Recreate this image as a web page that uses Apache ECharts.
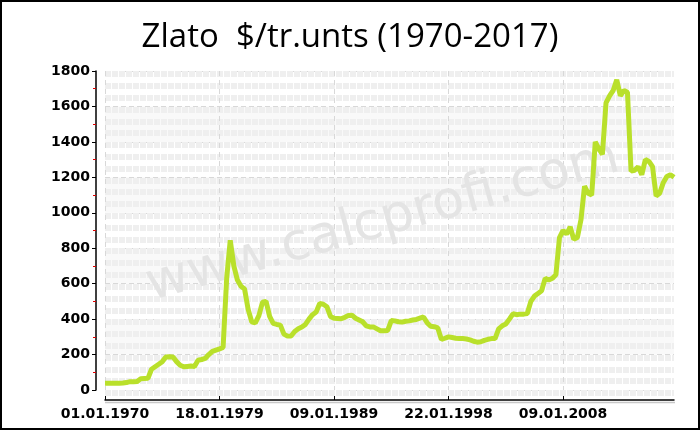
<!DOCTYPE html>
<html><head><meta charset="utf-8">
<script src="https://cdn.jsdelivr.net/npm/echarts@6/dist/echarts.min.js"></script>
<style>html,body{margin:0;padding:0;background:#fff}#c{width:700px;height:430px}</style>
</head><body><div id="c"></div>
<script>
const titleText = 'Zlato  $/tr.unts (1970-2017)';
const watermarkText = 'www.calcprofi.com';
const tickLabels = ['01.01.1970', '18.01.1979', '09.01.1989', '22.01.1998', '09.01.2008'];
const labelStep = 32;
const goldPrice = [
  38,38,38,38,38,39,42,47,47,48,
  64,65,66,117,131,145,160,186,188,186,
  160,140,131,133,135,133,168,172,178,200,
  218,225,232,240,630,845,700,620,585,570,
  455,385,378,420,495,500,415,376,370,366,
  315,304,305,330,345,355,370,400,425,440,
  488,484,470,415,405,404,402,410,420,422,
  405,395,385,362,356,356,345,334,334,336,
  392,390,385,383,388,390,395,398,405,412,
  380,360,357,350,285,292,300,296,292,290,
  290,288,283,275,270,272,280,286,290,290,
  345,362,372,400,430,425,428,428,432,500,
  530,545,560,630,620,630,650,860,900,880,
  920,850,860,960,1150,1110,1100,1400,1360,1330,
  1620,1660,1690,1750,1660,1690,1680,1235,1240,1260,
  1215,1300,1290,1260,1095,1110,1170,1205,1215,1200
];
const yMin = 0, yMax = 1800, yStep = 200;

const categories = goldPrice.map((_, i) => String(i));
const chart = echarts.init(document.getElementById('c'), null, {renderer: 'canvas'});
const axisFont = {fontFamily: 'DejaVu Sans', fontWeight: 'bold', fontSize: 14, color: '#000'};

chart.setOption({
  animation: false,
  backgroundColor: '#fff',
  title: {
    text: titleText, left: 'center', top: 16,
    textStyle: {fontFamily: 'Open Sans', fontSize: 33, fontWeight: 'normal', color: '#000'}
  },
  graphic: [
    {type: 'text', x: 383, y: 222, rotation: 0.27, z: 1, silent: true,
     style: {text: watermarkText, x: 0, y: 0, fontFamily: 'DejaVu Sans', fontSize: 52,
             fill: '#e4e4e4', align: 'center', verticalAlign: 'middle'}},
    {type: 'line', z: 1, silent: true, shape: {x1: 105, y1: 402.5, x2: 675, y2: 402.5},
     style: {stroke: '#c8c8c8', lineWidth: 1.5}},
    {type: 'rect', z: 100, silent: true, shape: {x: 1, y: 1, width: 698, height: 428},
     style: {fill: 'none', stroke: '#000', lineWidth: 2}}
  ],
  grid: [
    {left: 105, top: 71, width: 569, height: 319},
    {left: 105, top: 74, width: 569, height: 319}
  ],
  xAxis: [
    {type: 'category', gridIndex: 0, data: categories, boundaryGap: false, offset: 10,
     axisLine: {onZero: false, lineStyle: {color: '#000', width: 1.5}},
     axisTick: {show: true, inside: true, length: 4, interval: labelStep - 1, lineStyle: {color: '#000'}},
     axisLabel: Object.assign({interval: labelStep - 1, margin: 7,
       formatter: (v, idx) => (idx % labelStep === 0 && tickLabels[idx / labelStep]) ? tickLabels[idx / labelStep] : ''}, axisFont),
     splitLine: {show: true, interval: labelStep - 1, lineStyle: {color: '#d8d8d8', type: [5, 4]}}},
    {type: 'category', gridIndex: 1, data: categories, boundaryGap: false, show: false}
  ],
  yAxis: [
    {type: 'value', gridIndex: 0, min: yMin, max: yMax, interval: yStep, offset: 9,
     axisLine: {show: true, onZero: false, lineStyle: {color: '#000', width: 1.5}},
     axisTick: {show: true, length: 4, lineStyle: {color: '#000'}},
     minorTick: {show: true, splitNumber: 2, length: 3, lineStyle: {color: '#e00000'}},
     axisLabel: Object.assign({margin: 6, formatter: v => String(v)}, axisFont),
     splitLine: {show: true, lineStyle: {color: '#d8d8d8', type: [5, 3]}},
     splitArea: {show: true, areaStyle: {color: ['rgba(255,255,255,0)', '#f9f9f9']}}},
    {type: 'value', gridIndex: 1, min: yMin, max: yMax, interval: yStep / 3, show: true,
     axisLine: {show: false}, axisTick: {show: false}, axisLabel: {show: false},
     splitLine: {show: true, lineStyle: {color: '#efefef', width: 6, type: [6, 1]}}}
  ],
  series: [
    {type: 'line', xAxisIndex: 1, yAxisIndex: 1, data: [], silent: true},
    {type: 'line', xAxisIndex: 0, yAxisIndex: 0, data: goldPrice, showSymbol: false, z: 5,
     lineStyle: {color: '#b9e02b', width: 5}}
  ]
});
</script></body></html>
